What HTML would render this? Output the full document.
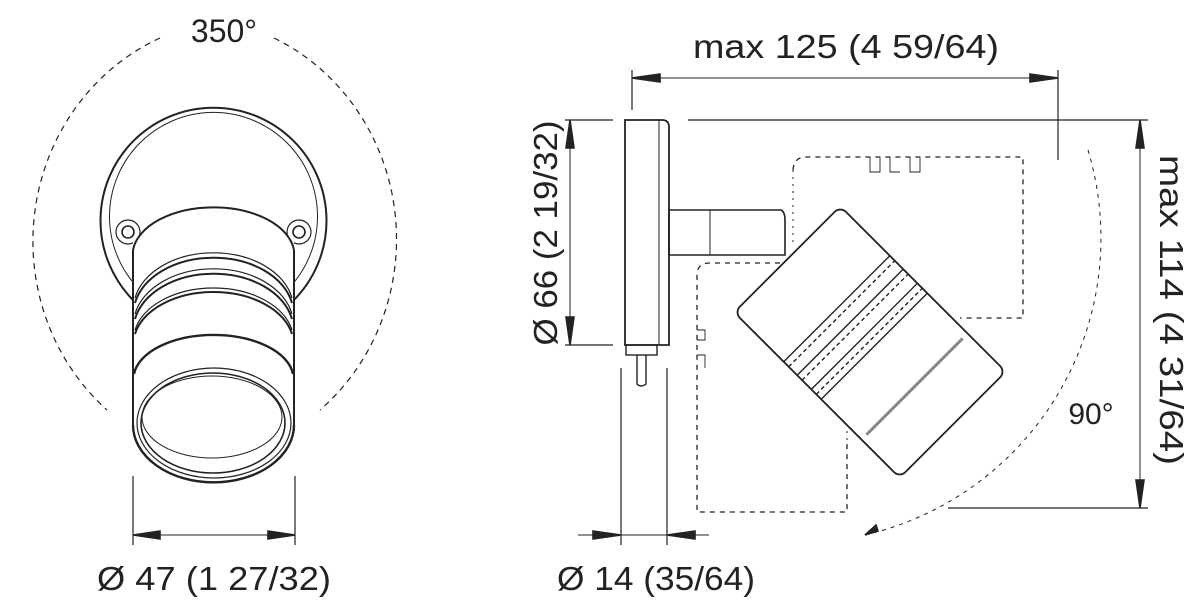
<!DOCTYPE html>
<html><head><meta charset="utf-8"><style>
html,body{margin:0;padding:0;background:#fff;width:1200px;height:607px;overflow:hidden}
svg{display:block}
text{font-family:"Liberation Sans",sans-serif;fill:#222}
</style></head><body>
<svg width="1200" height="607" viewBox="0 0 1200 607" xmlns="http://www.w3.org/2000/svg">
<g fill="none" stroke="#222" stroke-width="1.6">
<!-- LEFT FIGURE -->
<path d="M160 38 A212 222 0 0 0 107 410" stroke-dasharray="6 5" stroke-width="1.2"/>
<path d="M274 38 A212 222 0 0 1 320 410" stroke-dasharray="6 5" stroke-width="1.2"/>
<path d="M133 300 A113 113 0 1 1 294 300" stroke-width="2"/>
<path d="M140 290 A104 104 0 1 1 287 290" stroke-width="1"/>
<circle cx="128" cy="232" r="12" stroke-width="1.2"/><circle cx="128" cy="232" r="6"/>
<circle cx="299" cy="232" r="12" stroke-width="1.2"/><circle cx="299" cy="232" r="6"/>
<rect x="133" y="240" width="161" height="190" fill="#fff" stroke="none"/>
<path d="M133 250 A81 48 0 0 1 294 250" fill="#fff" stroke-width="2"/>
<line x1="133" y1="250" x2="133" y2="430" stroke-width="2"/>
<line x1="294" y1="250" x2="294" y2="430" stroke-width="2"/>
<path d="M135 298 A80 56 0 0 1 292 298" stroke-width="1.2"/>
<path d="M135 303 A80 56 0 0 1 292 303" stroke-width="2"/>
<path d="M135 314 A80 56 0 0 1 292 314" stroke-width="1.2"/>
<path d="M135 319 A80 56 0 0 1 292 319" stroke-width="2"/>
<path d="M135 330 A80 52 0 0 1 292 330" stroke-width="1.2"/>
<path d="M135 334 A80 52 0 0 1 292 334" stroke-width="2"/>
<path d="M134 374 A80 44 0 0 1 293 374" stroke-width="2.4"/>
<path d="M133 425 A80 57 0 0 0 294 425" stroke-width="2.4"/>
<ellipse cx="214" cy="423" rx="77" ry="55" stroke-width="1.2"/>
<ellipse cx="213" cy="423" rx="72" ry="50" stroke-width="1.6"/>
<ellipse cx="212" cy="417" rx="70" ry="41" stroke-width="1"/>
<line x1="133" y1="476" x2="133" y2="545" stroke-width="1.2"/>
<line x1="295" y1="476" x2="295" y2="545" stroke-width="1.2"/>
<line x1="133" y1="535" x2="295" y2="535" stroke-width="1"/>
<path d="M133 535 L160 531 L160 539Z M295 535 L268 531 L268 539Z" fill="#222"/>

<!-- RIGHT FIGURE -->
<line x1="632" y1="70" x2="632" y2="110" stroke-width="1.2"/>
<line x1="1058" y1="70" x2="1058" y2="160" stroke-width="1.2"/>
<line x1="632" y1="78" x2="1058" y2="78" stroke-width="1"/>
<path d="M632 78 L660 74 L660 82Z M1058 78 L1030 74 L1030 82Z" fill="#222"/>
<line x1="688" y1="120" x2="1148" y2="120" stroke-width="1.2"/>
<line x1="948" y1="508" x2="1148" y2="508" stroke-width="1.2"/>
<line x1="1140" y1="120" x2="1140" y2="508" stroke-width="1"/>
<path d="M1140 120 L1136 148 L1144 148Z M1140 508 L1136 480 L1144 480Z" fill="#222"/>
<line x1="565" y1="120" x2="613" y2="120" stroke-width="1.2"/>
<line x1="565" y1="345" x2="613" y2="345" stroke-width="1.2"/>
<line x1="570" y1="120" x2="570" y2="345" stroke-width="1"/>
<path d="M570 120 L566 148 L574 148Z M570 345 L566 317 L574 317Z" fill="#222"/>
<line x1="621" y1="368" x2="621" y2="545" stroke-width="1.2"/>
<line x1="667" y1="368" x2="667" y2="545" stroke-width="1.2"/>
<line x1="578" y1="535" x2="709" y2="535" stroke-width="1"/>
<path d="M621 535 L593 531 L593 539Z M667 535 L695 531 L695 539Z" fill="#222"/>
<path d="M625 120 L662 120 Q669 120 669 127 L669 345 L625 345Z" stroke-width="1.8"/>
<line x1="659" y1="120" x2="659" y2="345" stroke-width="1"/>
<rect x="626" y="345" width="31" height="10" stroke-width="1.4"/>
<path d="M637 355 L637 384 Q641 388 646 384 L646 355" stroke-width="1.4"/>
<path d="M669 210 L781 210 Q785 212 785 220 L785 255 L669 255Z" stroke-width="1.6"/>
<line x1="710" y1="210" x2="710" y2="255" stroke-width="1"/>
<path d="M793 170 Q794 157 806 157 L1023 157 L1023 318 L960 318" stroke-dasharray="5 5" stroke-width="1.3"/>
<path d="M870 157 L870 172 L880 172 L880 157 M890 157 L890 172 L900 172 M910 157 L910 172 L920 172 L920 157" stroke-width="0.9"/>
<path d="M793 170 L793 245" stroke-dasharray="2 5" stroke-width="1"/>
<path d="M790 263 L710 263 Q697 263 697 275 L697 512 L847 512 L847 440" stroke-dasharray="5 5" stroke-width="1.3"/>
<path d="M697 330 L705 330 L705 340 L697 340 M697 355 L705 355 L705 368" stroke-width="0.9"/>
<path d="M847 440 L847 360" stroke-dasharray="2 5" stroke-width="1"/>
<path d="M1088 150 A305 305 0 0 1 865 535" stroke-dasharray="4 5" stroke-width="1"/>
<path d="M865 535 L876 525 L878 531Z" fill="#222"/>
<g transform="translate(870,342) rotate(-45)">
<rect x="-75" y="-117" width="150" height="234" rx="8" fill="#fff" stroke-width="1.8"/>
<line x1="-75" y1="-47" x2="75" y2="-47" stroke-width="1.4"/>
<line x1="-75" y1="-40" x2="75" y2="-40" stroke-width="1.4" stroke-dasharray="4 3"/>
<line x1="-75" y1="-28" x2="75" y2="-28" stroke-width="1.4"/>
<line x1="-75" y1="-21" x2="75" y2="-21" stroke-width="1.4" stroke-dasharray="4 3"/>
<line x1="-75" y1="-8" x2="75" y2="-8" stroke-width="1.4"/>
<line x1="-75" y1="-1" x2="75" y2="-1" stroke-width="1.4" stroke-dasharray="4 3"/>
<line x1="-75" y1="6" x2="75" y2="6" stroke-width="1.4"/>
<line x1="-68" y1="63" x2="68" y2="63" stroke="#888" stroke-width="3"/>
</g>
</g>
<text x="224" y="42" font-size="32" text-anchor="middle">350°</text>
<text x="214" y="590" font-size="33" text-anchor="middle" textLength="234" lengthAdjust="spacingAndGlyphs">Ø 47 (1 27/32)</text>
<text x="846" y="58" font-size="33" text-anchor="middle" textLength="306" lengthAdjust="spacingAndGlyphs">max 125 (4 59/64)</text>
<text x="656" y="590" font-size="33" text-anchor="middle" textLength="198" lengthAdjust="spacingAndGlyphs">Ø 14 (35/64)</text>
<text x="1091" y="424" font-size="30" text-anchor="middle">90°</text>
<text transform="translate(557,233) rotate(-90)" font-size="33" text-anchor="middle" textLength="225" lengthAdjust="spacingAndGlyphs">Ø 66 (2 19/32)</text>
<text transform="translate(1160,310) rotate(90)" font-size="33" text-anchor="middle" textLength="310" lengthAdjust="spacingAndGlyphs">max 114 (4 31/64)</text>
</svg>
</body></html>
